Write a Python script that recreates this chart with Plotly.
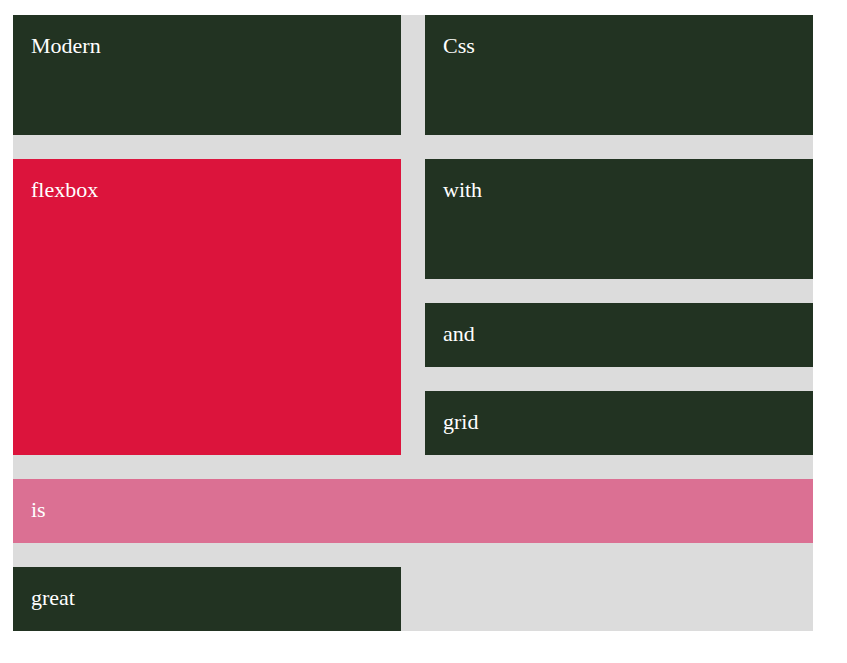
import plotly.graph_objects as go

# grid cells (page pixel coordinates)
labels = ['Modern', 'Css', 'flexbox', 'with', 'and', 'grid', 'is', 'great']
left = [13, 425, 13, 425, 425, 425, 13, 13]
right = [401, 813, 401, 813, 813, 813, 813, 401]
top = [15, 15, 159, 159, 303, 391, 479, 567]
bottom = [135, 135, 455, 279, 367, 455, 543, 631]
fills = ['#223322', '#223322', '#dc143c', '#223322', '#223322', '#223322', '#db7093', '#223322']

fig = go.Figure()

# container background
fig.add_shape(type='rect', x0=13, x1=813, y0=15, y1=631,
              fillcolor='#dcdcdc', line={'width': 0}, layer='below')

for i, lab in enumerate(labels):
    fig.add_shape(type='rect', x0=left[i], x1=right[i], y0=top[i], y1=bottom[i],
                  fillcolor=fills[i], line={'width': 0})
    fig.add_annotation(x=left[i] + 16, y=top[i] + 30, text=lab, showarrow=False,
                       xanchor='left', yanchor='middle',
                       font={'family': 'Liberation Serif, Times New Roman, serif',
                             'size': 22, 'color': 'white'})

# the page gets an 8px body margin, so the axes start 8px in
fig.update_layout(
    width=847, height=663,
    margin={'l': 0, 'r': 0, 't': 0, 'b': 0},
    paper_bgcolor='white', plot_bgcolor='white',
    xaxis={'range': [8, 855], 'visible': False, 'fixedrange': True},
    yaxis={'range': [671, 8], 'visible': False, 'fixedrange': True},
    showlegend=False,
)

fig.write_html('out.html', config={'displayModeBar': False})
